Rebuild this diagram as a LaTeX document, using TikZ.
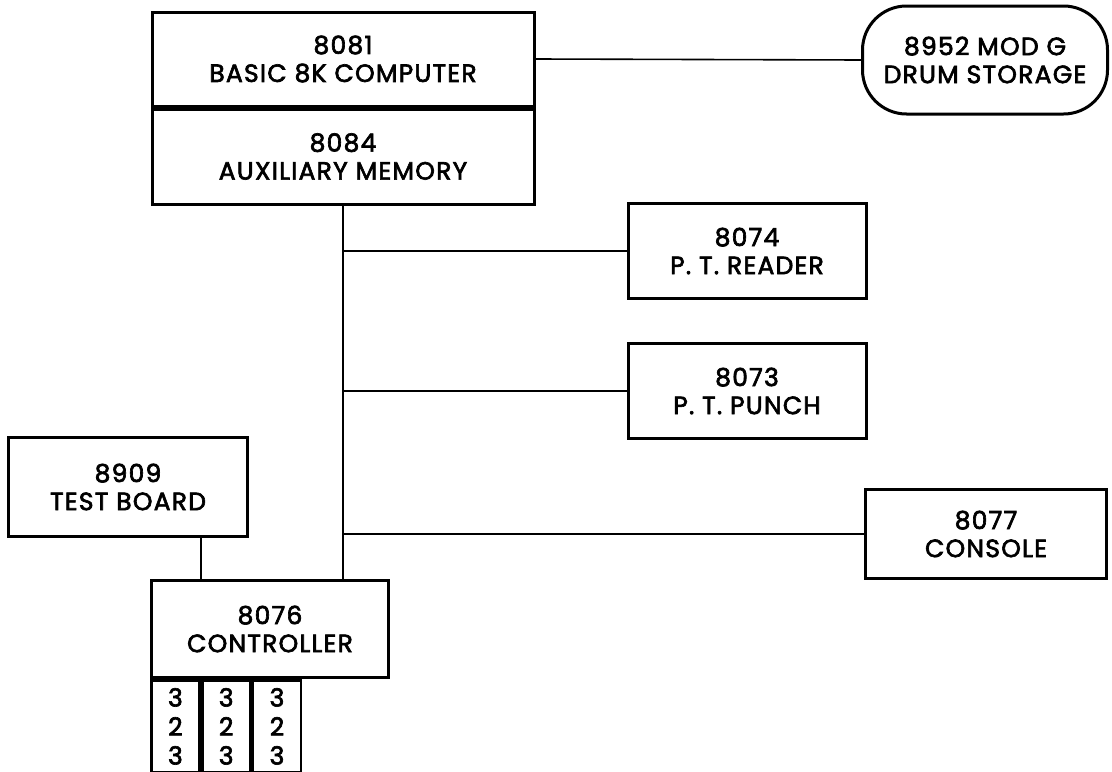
\documentclass[tikz,border=0pt]{standalone}
\usepackage{fontspec}
\setmainfont{Poppins}
\newfontfamily\boxfont{Poppins}[FakeBold=2.6,LetterSpace=5]

\begin{document}
\begin{tikzpicture}[x=0.5pt,y=-0.5pt,
    box/.style={draw,line width=1.5pt,align=center,inner sep=0pt,
      font=\boxfont\fontsize{12.5}{14}\selectfont},
    cell/.style={draw,line width=1.4pt,align=center,anchor=north west,
      minimum width=24pt,minimum height=46pt,inner sep=0pt,
      font=\boxfont\fontsize{12.5}{14.5}\selectfont},
    link/.style={line width=0.8pt}]
  \useasboundingbox (0,0) rectangle (1112,771);

  \node[box,minimum width=191pt,minimum height=47pt] (comp) at (343,59)
    {8081\\BASIC 8K COMPUTER};
  \node[box,minimum width=191pt,minimum height=47.5pt,anchor=north] (mem)
    at (comp.south) {8084\\AUXILIARY MEMORY};
  \node[box,minimum width=122.5pt,minimum height=54pt,rounded corners=22pt]
    (drum) at (985,60) {8952 MOD G\\DRUM STORAGE};

  \node[box,minimum width=119pt,minimum height=47.5pt] (reader) at (747,251)
    {8074\\P. T. READER};
  \node[box,minimum width=119pt,minimum height=47.5pt] (punch) at (747,391)
    {8073\\P. T. PUNCH};
  \node[box,minimum width=120.5pt,minimum height=44.5pt] (console) at (986,534)
    {8077\\CONSOLE};
  \node[box,minimum width=119.5pt,minimum height=49.5pt] (test) at (128,487)
    {8909\\TEST BOARD};
  \node[box,minimum width=118.5pt,minimum height=48.5pt] (ctrl) at (270,629)
    {8076\\CONTROLLER};

  \node[cell] (c1) at (ctrl.south west) {3\\2\\3};
  \node[cell] (c2) at (c1.north east) {3\\2\\3};
  \node[cell] (c3) at (c2.north east) {3\\2\\3};

  \draw[link] (comp.east) -- (drum.west);
  \draw[link] (mem.south) -- (mem.south |- ctrl.north);
  \draw[link] (mem.south |- reader.west) -- (reader.west);
  \draw[link] (mem.south |- punch.west) -- (punch.west);
  \draw[link] (mem.south |- console.west) -- (console.west);
  \draw[link] (test.south -| c1.north east) -- (c1.north east |- ctrl.north);
\end{tikzpicture}
\end{document}
